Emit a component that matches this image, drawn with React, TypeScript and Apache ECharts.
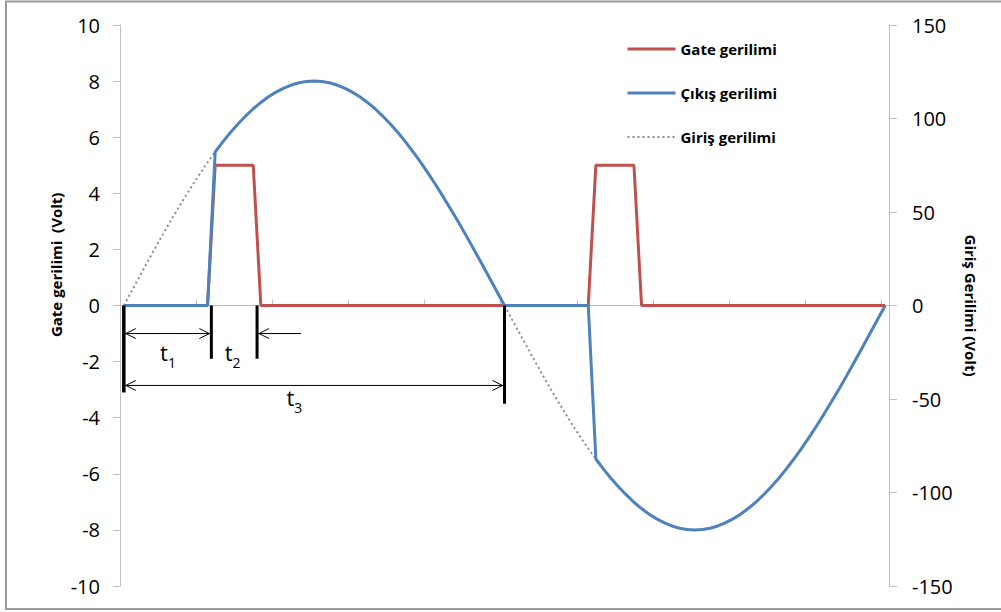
import React, { useEffect, useRef } from "react";
import * as echarts from "echarts";

// One full period of the supply, sampled in 101 steps
const adimlar = Array.from({ length: 101 }, (_, i) => String(i));

// Input voltage (right axis, Volt)
const girisGerilimi = [
  0, 7.5, 15.0, 22.5, 29.8, 37.1, 44.2, 51.1, 57.8, 64.3,
  70.5, 76.5, 82.1, 87.5, 92.5, 97.1, 101.3, 105.2, 108.6, 111.6,
  114.1, 116.2, 117.9, 119.1, 119.8, 120, 119.8, 119.1, 117.9, 116.2,
  114.1, 111.6, 108.6, 105.2, 101.3, 97.1, 92.5, 87.5, 82.1, 76.5,
  70.5, 64.3, 57.8, 51.1, 44.2, 37.1, 29.8, 22.5, 15.0, 7.5,
  0, -7.5, -15.0, -22.5, -29.8, -37.1, -44.2, -51.1, -57.8, -64.3,
  -70.5, -76.5, -82.1, -87.5, -92.5, -97.1, -101.3, -105.2, -108.6, -111.6,
  -114.1, -116.2, -117.9, -119.1, -119.8, -120, -119.8, -119.1, -117.9, -116.2,
  -114.1, -111.6, -108.6, -105.2, -101.3, -97.1, -92.5, -87.5, -82.1, -76.5,
  -70.5, -64.3, -57.8, -51.1, -44.2, -37.1, -29.8, -22.5, -15.0, -7.5,
  0,
];

// Output voltage (right axis, Volt): conducts from firing until the zero crossing
const cikisGerilimi = [
  0, 0, 0, 0, 0, 0, 0, 0, 0, 0,
  0, 0, 82.1, 87.5, 92.5, 97.1, 101.3, 105.2, 108.6, 111.6,
  114.1, 116.2, 117.9, 119.1, 119.8, 120, 119.8, 119.1, 117.9, 116.2,
  114.1, 111.6, 108.6, 105.2, 101.3, 97.1, 92.5, 87.5, 82.1, 76.5,
  70.5, 64.3, 57.8, 51.1, 44.2, 37.1, 29.8, 22.5, 15.0, 7.5,
  0, 0, 0, 0, 0, 0, 0, 0, 0, 0,
  0, 0, -82.1, -87.5, -92.5, -97.1, -101.3, -105.2, -108.6, -111.6,
  -114.1, -116.2, -117.9, -119.1, -119.8, -120, -119.8, -119.1, -117.9, -116.2,
  -114.1, -111.6, -108.6, -105.2, -101.3, -97.1, -92.5, -87.5, -82.1, -76.5,
  -70.5, -64.3, -57.8, -51.1, -44.2, -37.1, -29.8, -22.5, -15.0, -7.5,
  0,
];

// Gate pulses (left axis, Volt)
const gateGerilimi = [
  0, 0, 0, 0, 0, 0, 0, 0, 0, 0,
  0, 0, 5, 5, 5, 5, 5, 5, 0, 0,
  0, 0, 0, 0, 0, 0, 0, 0, 0, 0,
  0, 0, 0, 0, 0, 0, 0, 0, 0, 0,
  0, 0, 0, 0, 0, 0, 0, 0, 0, 0,
  0, 0, 0, 0, 0, 0, 0, 0, 0, 0,
  0, 0, 5, 5, 5, 5, 5, 5, 0, 0,
  0, 0, 0, 0, 0, 0, 0, 0, 0, 0,
  0, 0, 0, 0, 0, 0, 0, 0, 0, 0,
  0, 0, 0, 0, 0, 0, 0, 0, 0, 0,
  0,
];

// Timing marks, in sample steps (x) and gate volts (y)
const t1Baslangic = 0;
const t1Bitis = 11.5;
const t2Bitis = 17.5;
const t3Bitis = 50;
const zamanEtiketleri = [
  { ad: "1", x: 5.8, y: -1.65 },
  { ad: "2", x: 14.3, y: -1.65 },
  { ad: "3", x: 22.4, y: -3.25 },
];

const FONT = "'Open Sans', 'Liberation Sans', sans-serif";
const EKSEN_RENGI = "#bfbfbf";

export default function App() {
  const ref = useRef<HTMLDivElement>(null);

  useEffect(() => {
    if (!ref.current) return;
    const chart = echarts.init(ref.current, null, { renderer: "svg" });

    const baslikStili = {
      fontFamily: FONT,
      fontSize: 15,
      fontWeight: "bold",
      color: "#000",
    };

    const option: any = {
      animation: false,
      backgroundColor: "#ffffff",
      textStyle: { fontFamily: FONT },
      grid: { left: 120, right: 112, top: 25, bottom: 26 },
      legend: {
        orient: "vertical",
        left: 621,
        top: 34,
        itemWidth: 48,
        itemHeight: 14,
        itemGap: 24,
        data: [
          { name: "Gate gerilimi", lineStyle: { width: 3 } },
          { name: "Çıkış gerilimi", lineStyle: { width: 3 } },
          { name: "Giriş gerilimi", lineStyle: { width: 2 } },
        ],
        itemStyle: { opacity: 0 },
        textStyle: { ...baslikStili, lineHeight: 20 },
      },
      xAxis: {
        type: "category",
        data: adimlar,
        boundaryGap: true,
        axisLine: { onZero: true, onZeroAxisIndex: 0, lineStyle: { color: EKSEN_RENGI, width: 1 } },
        axisTick: { show: true, inside: true, length: 6, interval: 9, lineStyle: { color: EKSEN_RENGI } },
        axisLabel: { show: false },
        splitLine: { show: false },
      },
      yAxis: [
        {
          type: "value",
          min: -10,
          max: 10,
          interval: 2,
          position: "left",
          axisLine: { show: true, lineStyle: { color: EKSEN_RENGI } },
          axisTick: { show: true, length: 7, lineStyle: { color: EKSEN_RENGI } },
          axisLabel: { margin: 20, fontSize: 20, color: "#000", fontFamily: FONT },
          splitLine: { show: false },
        },
        {
          type: "value",
          min: -150,
          max: 150,
          interval: 50,
          position: "right",
          name: "Giriş Gerilimi (Volt)",
          nameLocation: "middle",
          nameRotate: -90,
          nameGap: 73,
          nameTextStyle: baslikStili,
          axisLine: { show: true, lineStyle: { color: EKSEN_RENGI } },
          axisTick: { show: true, length: 8, lineStyle: { color: EKSEN_RENGI } },
          axisLabel: { margin: 23, fontSize: 20, color: "#000", fontFamily: FONT },
          splitLine: { show: false },
        },
      ],
      series: [
        {
          name: "Giriş gerilimi",
          type: "line",
          yAxisIndex: 1,
          data: girisGerilimi,
          symbol: "none",
          z: 2,
          lineStyle: { color: "#8c8c8c", width: 2, type: [2, 3] },
          itemStyle: { color: "#8c8c8c" },
        },
        {
          name: "Gate gerilimi",
          type: "line",
          yAxisIndex: 0,
          data: gateGerilimi,
          symbol: "none",
          z: 3,
          lineStyle: { color: "#c0504d", width: 3 },
          itemStyle: { color: "#c0504d" },
        },
        {
          name: "Çıkış gerilimi",
          type: "line",
          yAxisIndex: 1,
          data: cikisGerilimi,
          symbol: "none",
          z: 4,
          lineStyle: { color: "#4f81bd", width: 3 },
          itemStyle: { color: "#4f81bd" },
        },
      ],
    };
    chart.setOption(option);

    // Pixel helpers on the gate (left) axis
    const p0 = chart.convertToPixel({ seriesIndex: 1 }, [0, 0]) as number[];
    const p1 = chart.convertToPixel({ seriesIndex: 1 }, [1, 1]) as number[];
    const adim = p1[0] - p0[0];
    const birim = p0[1] - p1[1];
    const px = (i: number) => p0[0] + i * adim;
    const py = (v: number) => p0[1] - v * birim;

    const cizgi = (x1: number, y1: number, x2: number, y2: number, w: number) => ({
      type: "line",
      shape: { x1, y1, x2, y2 },
      style: { stroke: "#000", lineWidth: w },
      z: 100,
    });
    const okBasi = (x: number, y: number, yon: number) => ({
      type: "polyline",
      shape: { points: [[x + yon * 10, y - 5], [x, y], [x + yon * 10, y + 5]] },
      style: { stroke: "#000", lineWidth: 1, fill: null },
      z: 100,
    });

    const xa = px(t1Baslangic);
    const xb = px(t1Bitis);
    const xc = px(t2Bitis);
    const xd = px(t3Bitis);
    const yOk1 = py(-1.0);
    const yOk3 = py(-2.85);

    const grafik: any[] = [
      {
        type: "rect",
        shape: { x: 6, y: 1.5, width: 1000, height: 607.5 },
        style: { fill: null, stroke: "#9a9a9a", lineWidth: 2 },
        z: 100,
      },
      // left axis title
      {
        type: "text",
        x: 56,
        y: py(1.45),
        rotation: Math.PI / 2,
        z: 100,
        style: {
          text: "Gate gerilimi  (Volt)",
          align: "center",
          verticalAlign: "middle",
          font: `bold 15px ${FONT}`,
          fill: "#000",
        },
      },
      // vertical markers
      cizgi(xa, py(0), xa, py(-3.1), 3.5),
      cizgi(xb, py(0), xb, py(-1.9), 3),
      cizgi(xc, py(0), xc, py(-1.9), 3),
      cizgi(xd, py(0), xd, py(-3.5), 3),
      // t1
      cizgi(xa, yOk1, xb, yOk1, 1),
      okBasi(xa + 2, yOk1, 1),
      okBasi(xb - 2, yOk1, -1),
      // t2
      cizgi(xc, yOk1, xc + 44, yOk1, 1),
      okBasi(xc + 2, yOk1, 1),
      // t3
      cizgi(xa, yOk3, xd, yOk3, 1),
      okBasi(xa + 2, yOk3, 1),
      okBasi(xd - 2, yOk3, -1),
    ];

    zamanEtiketleri.forEach((e) => {
      grafik.push({
        type: "text",
        x: px(e.x),
        y: py(e.y),
        z: 100,
        style: {
          text: `{t|t}{s|${e.ad}}`,
          align: "center",
          verticalAlign: "middle",
          rich: {
            t: { fontSize: 22, fontFamily: FONT, fill: "#000", verticalAlign: "bottom" },
            s: { fontSize: 14, fontFamily: FONT, fill: "#000", verticalAlign: "bottom", padding: [0, 0, -7, 0] },
          },
        },
      });
    });

    chart.setOption({ graphic: grafik });

    return () => chart.dispose();
  }, []);

  return (
    <div
      ref={ref}
      style={{ position: "fixed", left: 0, top: 0, width: 1001, height: 612 }}
    />
  );
}
